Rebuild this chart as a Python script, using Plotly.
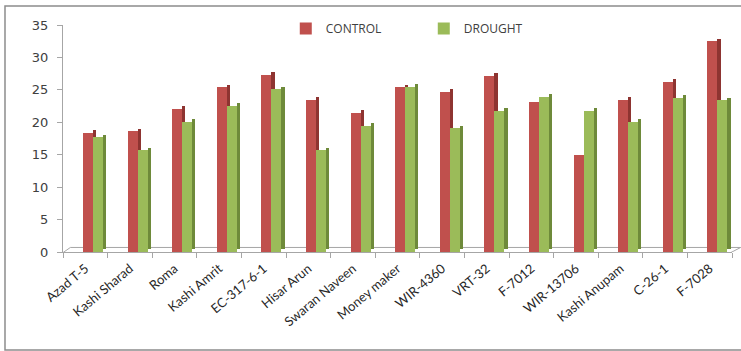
import plotly.graph_objects as go

# Tomato genotypes and the measured trait under two water regimes
genotypes = ["Azad T-5", "Kashi Sharad", "Roma", "Kashi Amrit", "EC-317-6-1",
             "Hisar Arun", "Swaran Naveen", "Money maker", "WIR-4360", "VRT-32",
             "F-7012", "WIR-13706", "Kashi Anupam", "C-26-1", "F-7028"]
control = [18.4, 18.6, 22.1, 25.4, 27.3, 23.5, 21.5, 25.4, 24.7, 27.2,
           23.2, 14.9, 23.5, 26.2, 32.5]
drought = [17.7, 15.7, 20.1, 22.5, 25.1, 15.7, 19.5, 25.5, 19.1, 21.8,
           23.9, 21.8, 20.1, 23.8, 23.4]
y_ticks = [0, 5, 10, 15, 20, 25, 30, 35]

RED, RED_SIDE = "#C0504D", "#8E3431"
GREEN, GREEN_SIDE = "#9BBB59", "#6E8A3A"
BAR_W, SIDE_W, LIFT = 0.224, 0.07, 0.4

fig = go.Figure()

def add_series(name, vals, front, side, off):
    # darker right-hand face gives the column a bit of depth
    fig.add_bar(x=genotypes, y=vals, base=LIFT, offset=off + BAR_W, width=SIDE_W,
                marker=dict(color=side, line=dict(width=0)), showlegend=False,
                hoverinfo="skip")
    fig.add_bar(x=genotypes, y=vals, offset=off, width=BAR_W, name=name,
                marker=dict(color=front, line=dict(width=0)))

add_series("CONTROL", control, RED, RED_SIDE, -0.05)
add_series("DROUGHT", drought, GREEN, GREEN_SIDE, -0.05 + BAR_W)

FLOOR = "#A6A6A6"
fig.update_layout(
    width=741, height=351,
    margin=dict(l=63, r=9, t=25, b=99),
    paper_bgcolor="white", plot_bgcolor="white",
    barmode="overlay", bargap=0,
    showlegend=True,
    legend=dict(orientation="h", x=0.333, y=0.985, xanchor="left", yanchor="middle",
                font=dict(family="Open Sans", size=12, color="#404040"),
                entrywidth=93, entrywidthmode="pixels",
                bgcolor="rgba(0,0,0,0)", itemclick=False),
    font=dict(family="Open Sans", color="#404040"),
    shapes=[
        # outer frame
        dict(type="rect", xref="paper", yref="paper", x0=-0.0867, x1=1.02,
             y0=-0.432, y1=1.084, line=dict(color="#8C8C8C", width=1.5),
             layer="below"),
        # floor of the chart: back edge and the two slanted ends
        dict(type="line", xref="paper", yref="y", x0=0.011, x1=1.013, y0=0.7, y1=0.7,
             line=dict(color=FLOOR, width=1), layer="below"),
        dict(type="line", xref="paper", yref="y", x0=0.0, x1=0.011, y0=-0.1, y1=0.7,
             line=dict(color=FLOOR, width=1), layer="below"),
        dict(type="line", xref="paper", yref="y", x0=0.998, x1=1.013, y0=-0.1, y1=0.7,
             line=dict(color=FLOOR, width=1), layer="below"),
    ],
)

fig.update_xaxes(
    type="category", range=[-0.5, len(genotypes) - 0.5],
    showline=True, linecolor=FLOOR, linewidth=1,
    ticks="outside", tickson="boundaries", ticklen=5, tickcolor=FLOOR,
    tickangle=-40, ticklabelstandoff=3,
    tickfont=dict(family="Lato", size=13, color="#262626"),
    showgrid=False, zeroline=False, automargin=False,
)
fig.update_yaxes(
    range=[0, 35], tickvals=y_ticks,
    showline=True, linecolor=FLOOR, linewidth=1,
    ticks="outside", ticklen=5, tickcolor=FLOOR, ticklabelstandoff=6,
    tickfont=dict(family="DejaVu Sans", size=13, color="#404040"),
    showgrid=False, zeroline=False, automargin=False,
)

fig.write_html("out.html")
